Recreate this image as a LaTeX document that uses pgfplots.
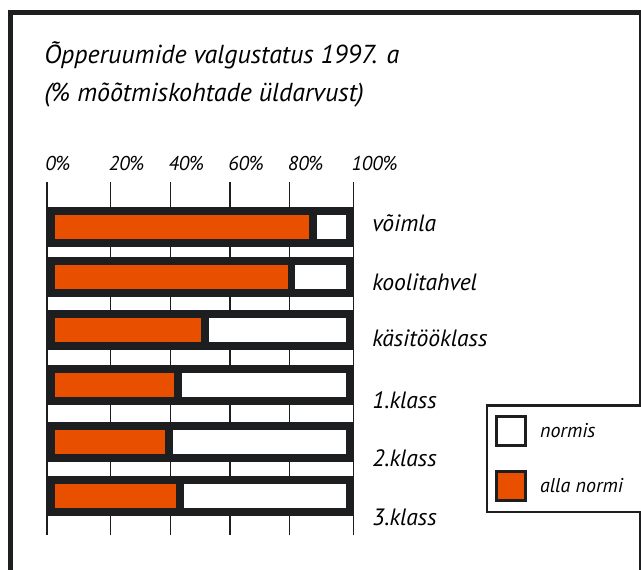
\documentclass[border=0pt]{standalone}
\usepackage{fontspec}
\setmainfont{PT Sans}
\usepackage{pgfplots}
\pgfplotsset{compat=1.18}
\definecolor{barorange}{RGB}{232,80,0}
\definecolor{ink}{RGB}{29,30,32}
\def\u{0.75pt}
\newcommand{\lab}{\fontsize{15}{18}\selectfont\itshape}
\newcommand{\cat}{\fontsize{17.7}{21}\selectfont\itshape}
\newcommand{\ttl}{\fontsize{19.5}{23}\selectfont\itshape}
\begin{document}
\begin{tikzpicture}
\useasboundingbox (0,0) rectangle ({641*\u},{-569*\u});
\clip (0,0) rectangle ({641*\u},{-569*\u});
\fill[white] (0,0) rectangle ({641*\u},{-569*\u});
\draw[ink, line width={5*\u}] ({10*\u},{-700*\u}) -- ({10*\u},{-12.5*\u}) -- ({641*\u},{-12.5*\u}) -- ({641*\u},{-700*\u});
\node[anchor=base west, inner sep=0pt, font=\ttl] at ({44*\u},{-63*\u}) {Õpperuumide valgustatus 1997. a};
\node[anchor=base west, inner sep=0pt, font=\ttl] at ({44*\u},{-101*\u}) {(\% mõõtmiskohtade üldarvust)};
\begin{axis}[
  at={({47*\u},{-182*\u})}, anchor=north west,
  scale only axis, width={306.3*\u}, height={353*\u},
  xbar stacked, bar width=32,
  xmin=-1.34, xmax=101.34, ymin=-535, ymax=-182,
  axis line style={draw=none},
  xtick={-1.34,20,40,60,80,101.34},
  xticklabels={0\%,20\%,40\%,60\%,80\%,100\%},
  xticklabel pos=right,
  ytick=\empty,
  xmajorgrids, major grid style={ink, line width={1.3*\u}},
  major tick length=0pt,
  x tick label style={anchor=base west, inner sep=0pt, xshift={-2*\u}, yshift={12*\u}, font=\lab},
  clip=false,
  legend style={at={(1.4316,0.371)}, anchor=north west, draw=ink, line width={2.5*\u},
    font=\lab, inner xsep=6pt, inner ysep=7.5pt, row sep=17pt, column sep=8pt},
  legend cell align=left,
]
\addlegendimage{legend image code/.code={\draw[ink, fill=white, line width={3*\u}] (0pt,{-14.5*\u}) rectangle ({29*\u},{14.5*\u});}}
\addlegendentry{\makebox[90pt][l]{normis}}
\addlegendimage{legend image code/.code={\draw[ink, fill=barorange, line width={3*\u}] (0pt,{-14.5*\u}) rectangle ({29*\u},{14.5*\u});}}
\addlegendentry{\makebox[90pt][l]{alla normi}}
\addplot[fill=barorange, draw=ink, line width={7.5*\u}, forget plot] coordinates {
  (87.8,-227) (80.6,-277) (51.7,-330) (42.6,-385) (39.5,-442) (43.3,-496)};
\addplot[fill=white, draw=ink, line width={7.5*\u}, forget plot] coordinates {
  (12.2,-227) (19.4,-277) (48.3,-330) (57.4,-385) (60.5,-442) (56.7,-496)};
\end{axis}
\node[anchor=base west, inner sep=0pt, font=\cat] at ({372*\u},{-231.7*\u}) {võimla};
\node[anchor=base west, inner sep=0pt, font=\cat] at ({372*\u},{-290*\u}) {koolitahvel};
\node[anchor=base west, inner sep=0pt, font=\cat] at ({372*\u},{-346.7*\u}) {käsitööklass};
\node[anchor=base west, inner sep=0pt, font=\cat] at ({372*\u},{-408*\u}) {1.klass};
\node[anchor=base west, inner sep=0pt, font=\cat] at ({372*\u},{-466.7*\u}) {2.klass};
\node[anchor=base west, inner sep=0pt, font=\cat] at ({372*\u},{-525*\u}) {3.klass};
\end{tikzpicture}
\end{document}
